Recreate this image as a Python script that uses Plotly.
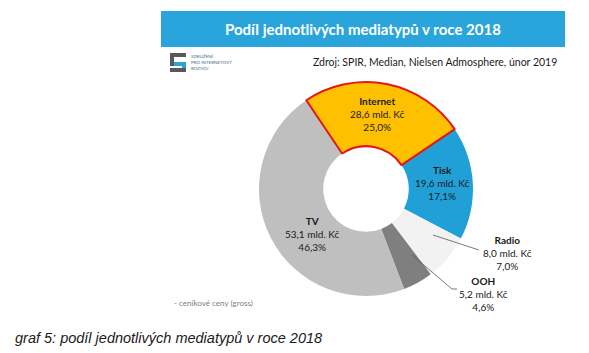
import plotly.graph_objects as go

W, H = 589, 353

# ---- data ----
categories = ["Internet", "Tisk", "Radio", "OOH", "TV"]
values_bn = [28.6, 19.6, 8.0, 5.2, 53.1]       # mld. Kč
shares_pct = [25.0, 17.1, 7.0, 4.6, 46.3]      # %
colors = ["#FFC000", "#21A0D8", "#F2F2F2", "#7F7F7F", "#BFBFBF"]

title_text = "Podíl jednotlivých mediatypů v roce 2018"
source_text = "Zdroj: SPIR, Median, Nielsen Admosphere, únor 2019"
note_text = "- ceníkové ceny (gross)"
caption_text = "graf 5: podíl jednotlivých mediatypů v roce 2018"
logo_text = "SDRUŽENÍ<br>PRO INTERNETOVÝ<br>ROZVOJ"


def fx(x):
    return x / W


def fy(y):
    return 1 - y / H


def fmt(v):
    return f"{v:.1f}".replace(".", ",")


# draw order: Internet last so its red outline is on top
order = [1, 2, 3, 4, 0]
cx, cy, R = 366, 189, 107

fig = go.Figure()
fig.add_trace(go.Pie(
    labels=[categories[i] for i in order],
    values=[values_bn[i] for i in order],
    marker=dict(colors=[colors[i] for i in order],
                line=dict(color=["rgba(0,0,0,0)"] * 4 + ["#E3161B"],
                          width=[0, 0, 0, 0, 2])),
    hole=0.4,
    sort=False,
    direction="clockwise",
    rotation=56,
    textinfo="none",
    hoverinfo="label+value+percent",
    showlegend=False,
    domain=dict(x=[fx(cx - R), fx(cx + R)], y=[fy(cy + R), fy(cy - R)]),
))

# label positions (pixel centres of first line)
label_pos = {"Internet": (377, 99), "Tisk": (442, 168), "Radio": (507, 238),
             "OOH": (483, 279), "TV": (312, 219)}

annotations = []
for i, cat in enumerate(categories):
    x, y = label_pos[cat]
    txt = (f"<b>{cat}</b><br>{fmt(values_bn[i])} mld. Kč<br>{fmt(shares_pct[i])}%")
    annotations.append(dict(
        x=fx(x), y=fy(y - 6), xref="paper", yref="paper",
        text=txt, showarrow=False, xanchor="center", yanchor="top",
        align="center", font=dict(family="Lato", size=10, color="#1a1a1a"),
    ))

annotations.append(dict(x=fx(363), y=fy(29), xref="paper", yref="paper",
                        text=f"<b>{title_text}</b>", showarrow=False,
                        xanchor="center", yanchor="middle",
                        font=dict(family="Lato", size=15, color="white")))
annotations.append(dict(x=fx(559), y=fy(62), xref="paper", yref="paper",
                        text=source_text, showarrow=False,
                        xanchor="right", yanchor="middle",
                        font=dict(family="Lato", size=10.5, color="#1a1a1a")))
annotations.append(dict(x=fx(189), y=fy(63), xref="paper", yref="paper",
                        text=logo_text, showarrow=False, align="left",
                        xanchor="left", yanchor="middle",
                        font=dict(family="Lato", size=4.5, color="#3b6d94")))
annotations.append(dict(x=fx(172), y=fy(303), xref="paper", yref="paper",
                        text=note_text, showarrow=False,
                        xanchor="left", yanchor="middle",
                        font=dict(family="Lato", size=8, color="#808080")))
annotations.append(dict(x=fx(13), y=fy(338), xref="paper", yref="paper",
                        text=f"<i>{caption_text}</i>", showarrow=False,
                        xanchor="left", yanchor="middle",
                        font=dict(family="Liberation Sans", size=14.5, color="#1a1a1a")))


def rect(x0, y0, x1, y1, color):
    return dict(type="rect", xref="paper", yref="paper",
                x0=fx(x0), x1=fx(x1), y0=fy(y1), y1=fy(y0),
                fillcolor=color, line=dict(width=0), layer="above")


def line(x0, y0, x1, y1):
    return dict(type="line", xref="paper", yref="paper",
                x0=fx(x0), y0=fy(y0), x1=fx(x1), y1=fy(y1),
                line=dict(color="#595959", width=0.8), layer="above")


shapes = [
    rect(161, 11, 565, 47, "#29A5DB"),
    # logo
    rect(170, 53, 186, 57, "#58595B"),
    rect(170, 53, 174, 66, "#58595B"),
    rect(174, 62, 186, 66, "#29A5DB"),
    rect(182, 62, 186, 72, "#29A5DB"),
    rect(170, 68, 186, 72, "#58595B"),
    # leader lines
    line(433, 235, 479, 250),
    line(412, 255, 452, 289),
    line(452, 289, 457, 289),
]

fig.update_layout(
    width=W, height=H,
    margin=dict(l=0, r=0, t=0, b=0),
    paper_bgcolor="white", plot_bgcolor="white",
    annotations=annotations, shapes=shapes,
)

fig.write_html("out.html")
